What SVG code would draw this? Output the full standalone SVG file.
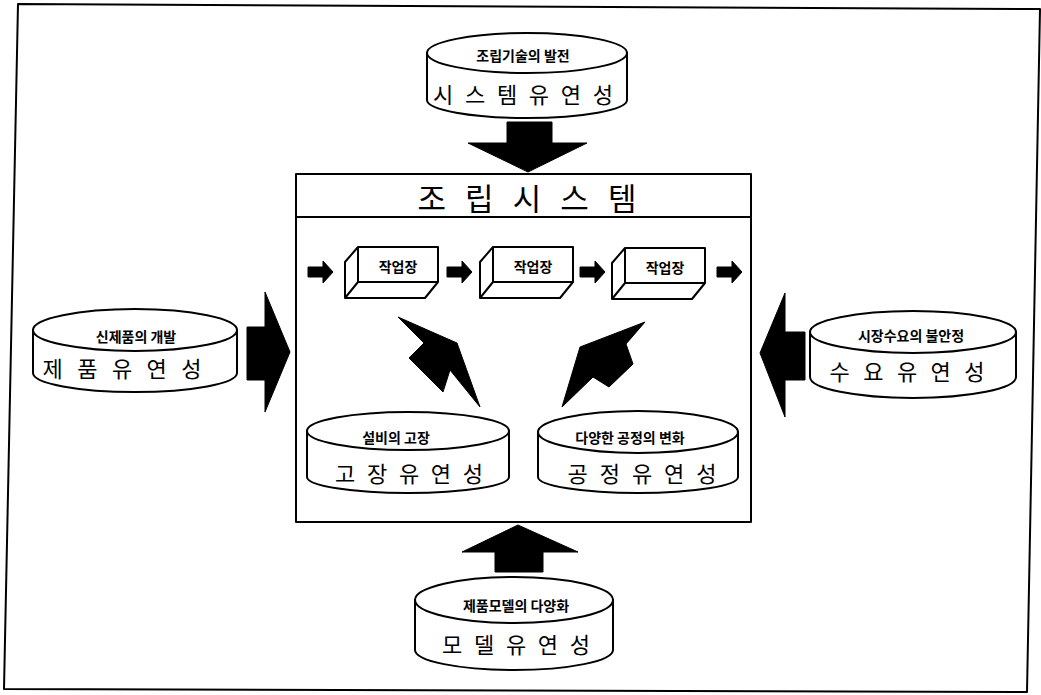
<svg xmlns="http://www.w3.org/2000/svg" width="1041" height="695" viewBox="0 0 1041 695">
<style>
.ln{fill:none;stroke:#000;stroke-width:2;stroke-linejoin:round}
.cyl{fill:#fff;stroke:#000;stroke-width:2}
.blk{fill:#000;stroke:#000;stroke-width:1;stroke-linejoin:miter}
.sm{font-family:"Noto Sans CJK KR","Noto Sans",sans-serif;font-weight:700;font-size:14px;fill:#000;text-anchor:middle;dominant-baseline:central}
.bg{font-family:"Noto Sans CJK KR","Noto Sans",sans-serif;font-weight:400;font-size:22px;fill:#000;text-anchor:middle;dominant-baseline:central}
.ttl{font-family:"Noto Sans CJK KR","Noto Sans",sans-serif;font-weight:400;font-size:31px;fill:#000;text-anchor:middle;dominant-baseline:central}
.ws{font-family:"Noto Sans CJK KR","Noto Sans",sans-serif;font-weight:700;font-size:14px;fill:#000;text-anchor:middle;dominant-baseline:central}
</style>
<rect width="1041" height="695" fill="#fff"/>
<polygon class="ln" points="18,4 1040,9 1027,692 4,689"/>

<g id="system">
<rect class="ln" x="296" y="174" width="455" height="348"/>
<line class="ln" x1="296" y1="217" x2="751" y2="217"/>
<text class="ttl" x="527" y="196" textLength="219" lengthAdjust="spacing">조립시스템</text>
</g>

<g id="ws1">
<path class="ln" d="M345,262 L358,247 L438,247 L438,282 L425,298 L345,298 Z M358,247 L358,282 L438,282 M358,282 L345,298" fill="#fff"/>
<text class="ws" x="398" y="266">작업장</text>
</g>
<g id="ws2">
<path class="ln" d="M480,262 L493,247 L573,247 L573,282 L560,298 L480,298 Z M493,247 L493,282 L573,282 M493,282 L480,298" fill="#fff"/>
<text class="ws" x="533" y="266">작업장</text>
</g>
<g id="ws3">
<path class="ln" d="M612,263 L625,248 L705,248 L705,283 L692,299 L612,299 Z M625,248 L625,283 L705,283 M625,283 L612,299" fill="#fff"/>
<text class="ws" x="665" y="267">작업장</text>
</g>

<g id="cyl-top">
<path class="cyl" d="M427,53 L427,100 A100,18 0 0 0 627,100 L627,53 Z"/>
<ellipse class="cyl" cx="527" cy="53" rx="100" ry="20"/>
<text class="sm" x="523" y="55">조립기술의 발전</text>
<text class="bg" x="523" y="93" textLength="180" lengthAdjust="spacing">시스템유연성</text>
</g>

<g id="cyl-left">
<path class="cyl" d="M33,330 L33,373 A102,19 0 0 0 237,373 L237,330 Z"/>
<ellipse class="cyl" cx="135" cy="330" rx="102" ry="21"/>
<text class="sm" x="136" y="336">신제품의 개발</text>
<text class="bg" x="122" y="367" textLength="159" lengthAdjust="spacing">제품유연성</text>
</g>

<g id="cyl-right">
<path class="cyl" d="M810,332 L810,377 A103,21 0 0 0 1016,377 L1016,332 Z"/>
<ellipse class="cyl" cx="913" cy="332" rx="103" ry="21"/>
<text class="sm" x="911" y="335">시장수요의 불안정</text>
<text class="bg" x="907" y="370" textLength="155" lengthAdjust="spacing">수요유연성</text>
</g>

<g id="cyl-fault">
<path class="cyl" d="M307,431 L307,477 A101,16 0 0 0 509,477 L509,431 Z"/>
<ellipse class="cyl" cx="408" cy="431" rx="101" ry="19"/>
<text class="sm" x="396" y="437">설비의 고장</text>
<text class="bg" x="409" y="472" textLength="148" lengthAdjust="spacing">고장유연성</text>
</g>

<g id="cyl-process">
<path class="cyl" d="M538,432 L538,477 A100,16 0 0 0 738,477 L738,432 Z"/>
<ellipse class="cyl" cx="638" cy="432" rx="100" ry="21"/>
<text class="sm" x="630" y="437">다양한 공정의 변화</text>
<text class="bg" x="642" y="472" textLength="149" lengthAdjust="spacing">공정유연성</text>
</g>

<g id="cyl-bottom">
<path class="cyl" d="M415,600 L415,650 A99,20 0 0 0 613,650 L613,600 Z"/>
<ellipse class="cyl" cx="514" cy="600" rx="99" ry="23"/>
<text class="sm" x="516" y="605">제품모델의 다양화</text>
<text class="bg" x="516" y="643" textLength="148" lengthAdjust="spacing">모델유연성</text>
</g>

<g id="connectors">
<polygon class="blk" points="507,122 552,122 552,143 587,143 528,172 468,143 507,143"/>
<polygon class="blk" points="247,327 265,327 265,292 290,352 265,412 265,380 247,380"/>
<polygon class="blk" points="805,332 785,332 785,293 760,353 785,417 785,380 805,380"/>
<polygon class="blk" points="495,572 495,552 462,552 518,525 578,552 543,552 543,572"/>
<polygon class="blk" points="398,317 457,343 480,407 450,370 443,392 409,358 424,343"/>
<polygon class="blk" points="645,322 626,344 633,364 609,387 593,377 562,407 580,347"/>
<polygon class="blk" points="308,267 323,267 323,261 333,272 323,283 323,277 308,277"/>
<polygon class="blk" points="447,267 462,267 462,261 472,272 462,283 462,277 447,277"/>
<polygon class="blk" points="580,267 595,267 595,261 605,272 595,283 595,277 580,277"/>
<polygon class="blk" points="717,267 732,267 732,261 742,272 732,283 732,277 717,277"/>
</g>
</svg>
